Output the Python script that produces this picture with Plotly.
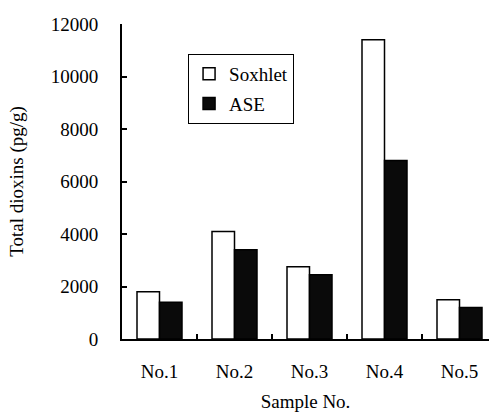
import plotly.graph_objects as go

categories = ["No.1", "No.2", "No.3", "No.4", "No.5"]
soxhlet = [1800, 4100, 2750, 11400, 1500]
ase = [1400, 3400, 2450, 6800, 1200]
y_ticks = [0, 2000, 4000, 6000, 8000, 10000, 12000]
y_tick_labels = ["0", "2000", "4000", "6000", "8000", "10000", "12000"]

FONT = "Liberation Serif"
tickfont = dict(family=FONT, size=19, color="black")

fig = go.Figure()
fig.add_trace(go.Bar(
    name="Soxhlet", x=categories, y=soxhlet,
    marker=dict(color="white", line=dict(color="black", width=1.5)),
    legendgroup="a",
))
fig.add_trace(go.Bar(
    name="ASE", x=categories, y=ase,
    marker=dict(color="#0a0a0a", line=dict(color="black", width=1.5)),
    legendgroup="b",
))

fig.update_layout(
    width=489, height=412,
    margin=dict(l=122, r=0, t=24, b=73),
    paper_bgcolor="white", plot_bgcolor="white",
    barmode="group", bargap=0.4, bargroupgap=0,
    font=dict(family=FONT, size=19, color="black"),
    legend=dict(
        x=0.18, y=0.905, xanchor="left", yanchor="top",
        bordercolor="black", borderwidth=1, bgcolor="white",
        font=dict(family=FONT, size=19, color="black"),
        itemwidth=30, tracegroupgap=2,
    ),
    xaxis=dict(
        range=[-0.5, -0.5 + 367 / 75],
        showline=True, linecolor="black", linewidth=2,
        ticks="inside", ticklen=5, tickwidth=1.5, tickcolor="black",
        tickson="boundaries", showgrid=False, zeroline=False,
        tickfont=tickfont,
        ticklabelstandoff=14,
        title=dict(text="Sample No.", font=dict(family=FONT, size=19, color="black"), standoff=14),
    ),
    yaxis=dict(
        range=[0, 12000], tickvals=y_ticks, ticktext=y_tick_labels,
        showline=True, linecolor="black", linewidth=2,
        ticks="inside", ticklen=5, tickwidth=1.5, tickcolor="black",
        showgrid=False, zeroline=False,
        tickfont=tickfont,
        ticklabelstandoff=18,
        title=dict(text="Total dioxins (pg/g)", font=dict(family=FONT, size=19, color="black"), standoff=22),
    ),
)

fig.write_html("out.html")
